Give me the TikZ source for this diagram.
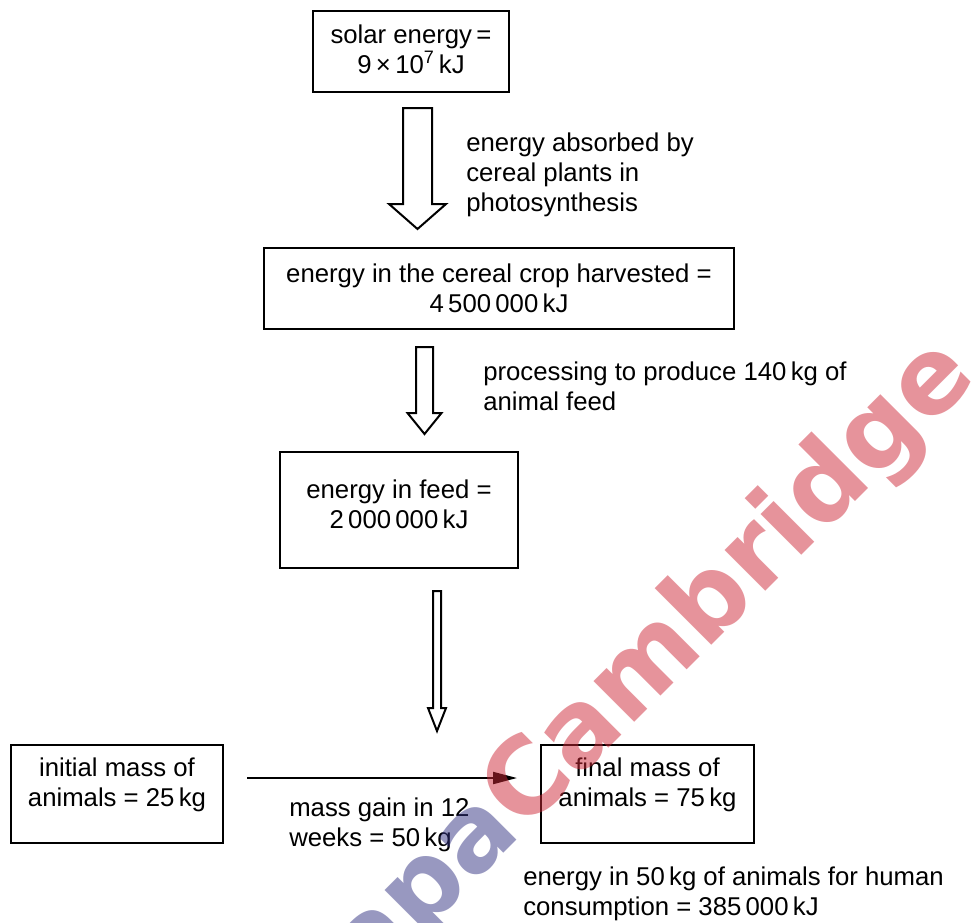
\documentclass[tikz,border=0pt]{standalone}
\usepackage{fontspec}
\setmainfont{Liberation Sans}
\newfontfamily\wmfont{DejaVu Sans}
\usetikzlibrary{arrows.meta,calc}
\definecolor{wmred}{RGB}{205,40,55}
\definecolor{wmblue}{RGB}{50,50,130}
\newcommand\hollowarrow[6]{%
  \draw[hollow] (#1-#5,#2) -- (#1+#5,#2) -- (#1+#5,#3) -- (#1+#6,#3) -- (#1,#4)
    -- (#1-#6,#3) -- (#1-#5,#3) -- cycle;}
\begin{document}
\begin{tikzpicture}[x=0.75pt,y=-0.75pt,
  font=\fontsize{19.3}{22.5}\selectfont,
  box/.style={draw, line width=1.5pt, inner sep=0pt, align=center},
  lbl/.style={align=left, anchor=north west, inner sep=0pt},
  hollow/.style={draw, line width=1.5pt, line join=miter, fill=white},
  flow/.style={line width=1.5pt, -{Triangle[length=18pt,width=9pt]}}]
\useasboundingbox (0,0) rectangle (977,922);
\clip (0,0) rectangle (977,922);

\node[box, minimum width=196*0.75pt, minimum height=81*0.75pt, text depth=3pt] (b1) at (411,51.5)
  {solar energy\,=\\9\,×\,10\textsuperscript{7}\,kJ};
\node[box, minimum width=470*0.75pt, minimum height=81*0.75pt, text depth=0pt] (b2) at (499,288.5)
  {energy in the cereal crop harvested =\\4\,500\,000\,kJ};
\node[box, minimum width=238*0.75pt, minimum height=116*0.75pt, text depth=9pt] (b3) at (399,510)
  {energy in feed =\\2\,000\,000\,kJ};
\node[box, minimum width=212*0.75pt, minimum height=98*0.75pt, text depth=18pt] (b4) at (117,794)
  {initial mass of\\animals = 25\,kg};
\node[box, minimum width=213*0.75pt, minimum height=98*0.75pt, text depth=18pt] (b5) at (647.5,794)
  {final mass of\\animals = 75\,kg};

\hollowarrow{417.5}{108}{204}{229}{14.5}{28.5}
\hollowarrow{424.5}{347}{413}{434}{8.5}{17}
\hollowarrow{437}{591}{708}{731}{4}{9}

\draw[flow] ($(b4.east)+(23,-16)$) coordinate (fs) -- ($(b5.west)+(-23,-16)$) coordinate (fe);

\node[lbl] (t1) at (466,133) {energy absorbed by\\cereal plants in\\photosynthesis};
\node[lbl] (t2) at (483,362) {processing to produce 140\,kg of\\animal feed};
\node[lbl] (t3) at (289,798) {mass gain in 12\\weeks = 50\,kg};
\node[lbl] (t4) at (523,867) {energy in 50\,kg of animals for human\\consumption = 385\,000\,kJ};

% watermark
\begin{scope}[opacity=0.5]
\node[rotate=45, anchor=base west, inner sep=0pt, text=wmred,
  font=\wmfont\bfseries\fontsize{79}{86}\selectfont] (wm1) at (523,834) {Cambridge};
\node[rotate=45, anchor=base east, inner sep=0pt, text=wmblue,
  font=\wmfont\bfseries\fontsize{79}{86}\selectfont] (wm2) at (523,834) {Papa};
\end{scope}
\end{tikzpicture}
\end{document}
